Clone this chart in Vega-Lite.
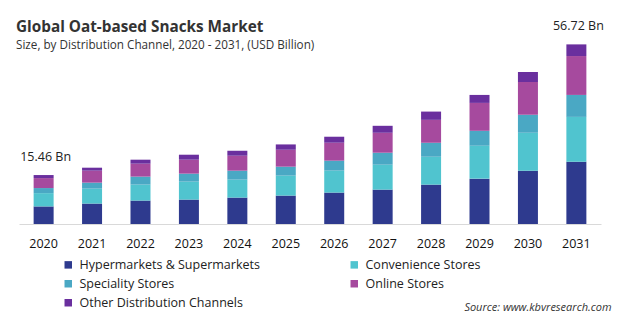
{
  "$schema": "https://vega.github.io/schema/vega-lite/v6.json",
  "width": 582,
  "height": 190,
  "autosize": {"type": "none"},
  "padding": {"left": 19, "right": 19, "top": 34, "bottom": 98},
  "background": "white",
  "title": {
    "text": "Global Oat-based Snacks Market",
    "subtitle": "Size, by Distribution Channel, 2020 - 2031, (USD Billion)",
    "anchor": "start",
    "frame": "group",
    "offset": -31,
    "dx": -3,
    "font": "Open Sans",
    "fontSize": 15.3,
    "fontWeight": "bold",
    "color": "#333333",
    "subtitleFont": "Open Sans",
    "subtitleFontSize": 11.7,
    "subtitleColor": "#333333",
    "subtitlePadding": 4
  },
  "datasets": {
    "segments": [
      {"year": "2020", "channel": "Hypermarkets & Supermarkets", "value": 5.55},
      {"year": "2020", "channel": "Convenience Stores", "value": 4.20},
      {"year": "2020", "channel": "Speciality Stores", "value": 1.60},
      {"year": "2020", "channel": "Online Stores", "value": 3.15},
      {"year": "2020", "channel": "Other Distribution Channels", "value": 0.96},
      {"year": "2021", "channel": "Hypermarkets & Supermarkets", "value": 6.45},
      {"year": "2021", "channel": "Convenience Stores", "value": 4.72},
      {"year": "2021", "channel": "Speciality Stores", "value": 1.89},
      {"year": "2021", "channel": "Online Stores", "value": 3.78},
      {"year": "2021", "channel": "Other Distribution Channels", "value": 0.94},
      {"year": "2022", "channel": "Hypermarkets & Supermarkets", "value": 7.40},
      {"year": "2022", "channel": "Convenience Stores", "value": 5.04},
      {"year": "2022", "channel": "Speciality Stores", "value": 2.52},
      {"year": "2022", "channel": "Online Stores", "value": 4.09},
      {"year": "2022", "channel": "Other Distribution Channels", "value": 1.26},
      {"year": "2023", "channel": "Hypermarkets & Supermarkets", "value": 7.71},
      {"year": "2023", "channel": "Convenience Stores", "value": 5.67},
      {"year": "2023", "channel": "Speciality Stores", "value": 2.52},
      {"year": "2023", "channel": "Online Stores", "value": 4.41},
      {"year": "2023", "channel": "Other Distribution Channels", "value": 1.57},
      {"year": "2024", "channel": "Hypermarkets & Supermarkets", "value": 8.34},
      {"year": "2024", "channel": "Convenience Stores", "value": 5.67},
      {"year": "2024", "channel": "Speciality Stores", "value": 2.83},
      {"year": "2024", "channel": "Online Stores", "value": 4.72},
      {"year": "2024", "channel": "Other Distribution Channels", "value": 1.57},
      {"year": "2025", "channel": "Hypermarkets & Supermarkets", "value": 8.97},
      {"year": "2025", "channel": "Convenience Stores", "value": 6.30},
      {"year": "2025", "channel": "Speciality Stores", "value": 2.83},
      {"year": "2025", "channel": "Online Stores", "value": 5.35},
      {"year": "2025", "channel": "Other Distribution Channels", "value": 1.68},
      {"year": "2026", "channel": "Hypermarkets & Supermarkets", "value": 9.92},
      {"year": "2026", "channel": "Convenience Stores", "value": 6.93},
      {"year": "2026", "channel": "Speciality Stores", "value": 3.15},
      {"year": "2026", "channel": "Online Stores", "value": 5.67},
      {"year": "2026", "channel": "Other Distribution Channels", "value": 1.89},
      {"year": "2027", "channel": "Hypermarkets & Supermarkets", "value": 10.86},
      {"year": "2027", "channel": "Convenience Stores", "value": 7.87},
      {"year": "2027", "channel": "Speciality Stores", "value": 3.78},
      {"year": "2027", "channel": "Online Stores", "value": 6.30},
      {"year": "2027", "channel": "Other Distribution Channels", "value": 2.20},
      {"year": "2028", "channel": "Hypermarkets & Supermarkets", "value": 12.43},
      {"year": "2028", "channel": "Convenience Stores", "value": 8.81},
      {"year": "2028", "channel": "Speciality Stores", "value": 4.41},
      {"year": "2028", "channel": "Online Stores", "value": 7.24},
      {"year": "2028", "channel": "Other Distribution Channels", "value": 2.61},
      {"year": "2029", "channel": "Hypermarkets & Supermarkets", "value": 14.32},
      {"year": "2029", "channel": "Convenience Stores", "value": 10.39},
      {"year": "2029", "channel": "Speciality Stores", "value": 4.72},
      {"year": "2029", "channel": "Online Stores", "value": 8.81},
      {"year": "2029", "channel": "Other Distribution Channels", "value": 2.52},
      {"year": "2030", "channel": "Hypermarkets & Supermarkets", "value": 16.84},
      {"year": "2030", "channel": "Convenience Stores", "value": 11.96},
      {"year": "2030", "channel": "Speciality Stores", "value": 5.67},
      {"year": "2030", "channel": "Online Stores", "value": 10.39},
      {"year": "2030", "channel": "Other Distribution Channels", "value": 3.15},
      {"year": "2031", "channel": "Hypermarkets & Supermarkets", "value": 19.66},
      {"year": "2031", "channel": "Convenience Stores", "value": 14.17},
      {"year": "2031", "channel": "Speciality Stores", "value": 6.93},
      {"year": "2031", "channel": "Online Stores", "value": 12.28},
      {"year": "2031", "channel": "Other Distribution Channels", "value": 3.68}
    ],
    "totals": [
      {"year": "2020", "total": 15.46, "label": "15.46 Bn"},
      {"year": "2031", "total": 56.72, "label": "56.72 Bn"}
    ]
  },
  "layer": [
    {
      "data": {"name": "segments"},
      "transform": [
        {"calculate": "indexof(['Hypermarkets & Supermarkets', 'Convenience Stores', 'Speciality Stores', 'Online Stores', 'Other Distribution Channels'], datum.channel)", "as": "stackRank"}
      ],
      "mark": {"type": "bar", "width": 20},
      "encoding": {
        "x": {
          "field": "year",
          "type": "ordinal",
          "scale": {"paddingInner": 0.587, "paddingOuter": 0.302},
          "axis": {
            "title": "Source: www.kbvresearch.com",
            "titleX": 592,
            "titleY": 86,
            "titleAlign": "right",
            "titleAnchor": "end",
            "titleBaseline": "alphabetic",
            "titleFont": "Open Sans",
            "titleFontStyle": "italic",
            "titleFontWeight": "normal",
            "titleFontSize": 11,
            "titleColor": "#333333",
            "labelAngle": 0,
            "labelFont": "Open Sans",
            "labelFontSize": 12.5,
            "labelColor": "#111111",
            "labelBaseline": "alphabetic",
            "labelPadding": 23,
            "ticks": false,
            "domainColor": "#d9d9d9",
            "domainWidth": 1,
            "grid": false
          }
        },
        "y": {
          "field": "value",
          "type": "quantitative",
          "stack": "zero",
          "scale": {"domain": [0, 60]},
          "axis": null
        },
        "order": {"field": "stackRank", "type": "quantitative", "sort": "ascending"},
        "color": {
          "field": "channel",
          "type": "nominal",
          "sort": ["Hypermarkets & Supermarkets", "Convenience Stores", "Speciality Stores", "Online Stores", "Other Distribution Channels"],
          "scale": {
            "domain": ["Hypermarkets & Supermarkets", "Convenience Stores", "Speciality Stores", "Online Stores", "Other Distribution Channels"],
            "range": ["#2e3a8e", "#50c4cf", "#4aa8c4", "#a64a9e", "#6a2f9e"]
          },
          "legend": {
            "orient": "none",
            "direction": "horizontal",
            "legendX": 43,
            "legendY": 224.5,
            "columns": 2,
            "title": null,
            "symbolType": "square",
            "symbolSize": 56,
            "symbolStrokeWidth": 0,
            "labelFont": "Open Sans",
            "labelFontSize": 12.5,
            "labelColor": "#222222",
            "labelOffset": 5,
            "labelLimit": 300,
            "rowPadding": 6,
            "columnPadding": 88
          }
        }
      }
    },
    {
      "data": {"name": "totals"},
      "mark": {"type": "text", "dy": -14, "dx": 2, "baseline": "alphabetic", "font": "Open Sans", "fontSize": 12.5, "color": "#222222"},
      "encoding": {
        "x": {"field": "year", "type": "ordinal"},
        "y": {"field": "total", "type": "quantitative"},
        "text": {"field": "label"}
      }
    }
  ],
  "config": {"view": {"stroke": null}}
}
